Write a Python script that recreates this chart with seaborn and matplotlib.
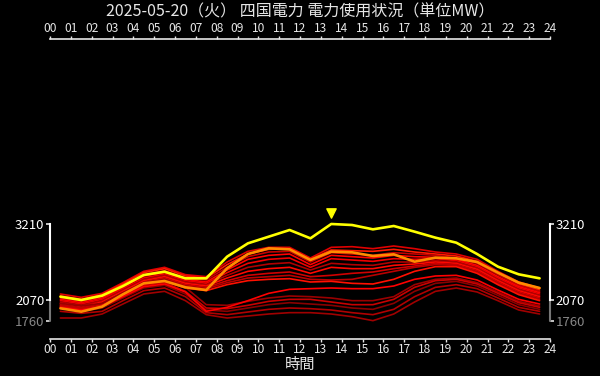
import numpy as np
import pandas as pd
import matplotlib
matplotlib.use('Agg')
import matplotlib.pyplot as plt
import matplotlib.transforms as mtransforms
import seaborn as sns

# hours at which values are plotted (centre of each hour)
hours = [h + 0.5 for h in range(24)]
hour_labels = ['%02d' % h for h in range(25)]

# today (yellow) and the reference day (orange)
today = [2120, 2070, 2135, 2280, 2445, 2495, 2395, 2395, 2720, 2920, 3020, 3120,
         2995, 3210, 3195, 3130, 3180, 3095, 3005, 2930, 2760, 2570, 2455, 2395]
ref_day = [1945, 1895, 1970, 2155, 2320, 2355, 2260, 2220, 2545, 2760, 2845, 2830,
           2670, 2795, 2785, 2730, 2755, 2645, 2705, 2695, 2640, 2480, 2330, 2250]

# past days (red shades)
past_days = {
    'w1': [2160, 2110, 2170, 2330, 2500, 2560, 2450, 2420, 2640, 2800, 2860, 2860,
           2700, 2860, 2870, 2840, 2880, 2840, 2790, 2760, 2680, 2500, 2340, 2250],
    'w2': [2130, 2080, 2150, 2310, 2480, 2540, 2430, 2400, 2600, 2760, 2830, 2840,
           2680, 2820, 2810, 2800, 2830, 2790, 2760, 2730, 2650, 2480, 2310, 2220],
    'w3': [2100, 2050, 2120, 2280, 2450, 2510, 2400, 2370, 2560, 2720, 2790, 2800,
           2640, 2780, 2760, 2740, 2780, 2760, 2740, 2700, 2620, 2450, 2290, 2200],
    'w4': [2080, 2030, 2100, 2260, 2430, 2480, 2380, 2340, 2520, 2680, 2740, 2760,
           2600, 2740, 2720, 2700, 2740, 2720, 2710, 2680, 2590, 2420, 2270, 2180],
    'w5': [2060, 2010, 2080, 2240, 2400, 2460, 2360, 2320, 2480, 2620, 2680, 2700,
           2560, 2690, 2670, 2650, 2690, 2680, 2690, 2660, 2570, 2400, 2250, 2160],
    'w6': [2040, 1990, 2060, 2220, 2380, 2440, 2340, 2300, 2440, 2560, 2610, 2630,
           2520, 2620, 2600, 2590, 2640, 2640, 2660, 2640, 2550, 2380, 2230, 2140],
    'w7': [2020, 1970, 2040, 2200, 2360, 2420, 2320, 2280, 2400, 2500, 2540, 2560,
           2470, 2560, 2540, 2540, 2590, 2610, 2640, 2620, 2530, 2360, 2210, 2120],
    'w8': [2000, 1950, 2020, 2180, 2340, 2400, 2300, 2260, 2360, 2440, 2470, 2490,
           2420, 2440, 2470, 2490, 2540, 2580, 2620, 2600, 2510, 2340, 2190, 2100],
    'w9': [1990, 1940, 2000, 2160, 2320, 2380, 2280, 2240, 2330, 2400, 2420, 2440,
           2380, 2370, 2380, 2440, 2500, 2560, 2600, 2590, 2490, 2320, 2170, 2080],
    'w10': [1970, 1920, 1990, 2140, 2300, 2350, 2250, 2210, 2300, 2360, 2380, 2390,
            2340, 2350, 2320, 2310, 2380, 2500, 2570, 2570, 2470, 2300, 2150, 2060],
    'e1': [2020, 1980, 2020, 2180, 2330, 2380, 2260, 2000, 1990, 2050, 2100, 2130,
           2120, 2100, 2060, 2060, 2120, 2300, 2380, 2400, 2330, 2190, 2050, 1980],
    'e2': [1980, 1940, 1980, 2140, 2290, 2330, 2200, 1950, 1940, 1990, 2050, 2080,
           2080, 2040, 2000, 2000, 2080, 2260, 2360, 2380, 2310, 2170, 2030, 1960],
    'e3': [1950, 1900, 1950, 2100, 2250, 2290, 2160, 1920, 1900, 1950, 2000, 2030,
           2010, 1990, 1950, 1930, 2020, 2200, 2320, 2350, 2280, 2140, 2000, 1930],
    'e4': [1900, 1870, 1900, 2060, 2210, 2250, 2120, 1880, 1850, 1890, 1930, 1950,
           1940, 1920, 1880, 1850, 1930, 2120, 2260, 2300, 2240, 2100, 1960, 1900],
    'e5': [1800, 1800, 1860, 2010, 2160, 2200, 2060, 1850, 1800, 1830, 1860, 1880,
           1880, 1860, 1820, 1760, 1860, 2040, 2200, 2250, 2190, 2060, 1920, 1860],
    'e6': [1960, 1920, 1970, 2120, 2270, 2310, 2190, 1900, 1960, 2060, 2170, 2230,
           2240, 2250, 2240, 2240, 2280, 2380, 2430, 2440, 2370, 2220, 2080, 2010],
}
past_colors = {
    'w1': '#e00000', 'w2': '#ff1a00', 'w3': '#c40000', 'w4': '#ff0000',
    'w5': '#f00000', 'w6': '#b00000', 'w7': '#ff0800', 'w8': '#d00000',
    'w9': '#b80000', 'w10': '#ff1000', 'e1': '#9a0000', 'e2': '#c80000',
    'e3': '#8a0000', 'e4': '#b00000', 'e5': '#a00000', 'e6': '#ff0000',
}

rows = []
for name, vals in past_days.items():
    for h, v in zip(hours, vals):
        rows.append({'day': name, 'hour': h, 'mw': v})
past_df = pd.DataFrame(rows)
today_df = pd.DataFrame({'hour': hours, 'mw': today})
ref_df = pd.DataFrame({'hour': hours, 'mw': ref_day})

sns.set_theme(style='dark')
plt.rcParams['font.family'] = ['Noto Sans CJK JP', 'DejaVu Sans']

fg = '#e6e6e6'
fig = plt.figure(figsize=(6, 3.76), dpi=100, facecolor='black')
ax = fig.add_axes([50 / 600, 37 / 376, 500 / 600, 300 / 376])
ax.set_facecolor('black')

sns.lineplot(data=past_df, x='hour', y='mw', hue='day', palette=past_colors,
             linewidth=1.2, legend=False, ax=ax)
sns.lineplot(data=ref_df, x='hour', y='mw', color='#ff8c00', linewidth=1.9, ax=ax)
sns.lineplot(data=today_df, x='hour', y='mw', color='#ffff00', linewidth=1.9, ax=ax)

# marker above today's peak
imax = int(np.argmax(today))
off = mtransforms.offset_copy(ax.transData, fig=fig, x=0, y=8, units='points')
ax.scatter([hours[imax]], [today[imax]], marker='v', s=45, color='#ffff00',
           transform=off, zorder=5)

all_min = min(min(v) for v in past_days.values())
all_min = min(all_min, min(today), min(ref_day))
t_min, t_max = min(today), max(today)

ax.set_xlim(0, 24)
ax.set_ylim(1485, 5985)
ax.set_xticks(range(25))
ax.set_xticklabels(hour_labels)
ax.set_yticks([all_min, t_min, t_max])
ax.set_yticklabels([str(all_min), str(t_min), str(t_max)])
ax.tick_params(axis='x', which='both', top=True, bottom=True, labeltop=True,
               labelbottom=True, direction='out', length=2.5, width=1,
               color=fg, labelcolor=fg, labelsize=8.6, pad=0.5)
ax.tick_params(axis='y', left=True, right=True, labelleft=True, labelright=True,
               direction='out', length=3, width=1.2, color=fg, labelcolor='white',
               labelsize=9.5, pad=1)
low_tick = ax.yaxis.get_major_ticks()[0]
low_tick.label1.set_color('#888888')
low_tick.label2.set_color('#888888')
low_tick.tick1line.set_color('#777777')
low_tick.tick2line.set_color('#777777')

for side in ('top', 'bottom'):
    ax.spines[side].set_color(fg)
    ax.spines[side].set_linewidth(1.2)
for side in ('left', 'right'):
    ax.spines[side].set_color('white')
    ax.spines[side].set_linewidth(1.5)
    ax.spines[side].set_bounds(t_min, t_max)
ax.plot([0, 0], [all_min, t_min], color='#777777', lw=1.5, clip_on=False)
ax.plot([24, 24], [all_min, t_min], color='#777777', lw=1.5, clip_on=False)

ax.set_ylabel('')
ax.set_xlabel('時間', color=fg, fontsize=11, labelpad=0)
ax.grid(False)
fig.suptitle('2025-05-20（火） 四国電力 電力使用状況（単位MW）', color=fg,
             fontsize=11.5, y=1 - 12 / 376, va='center')

fig.savefig('out.png', facecolor='black')
